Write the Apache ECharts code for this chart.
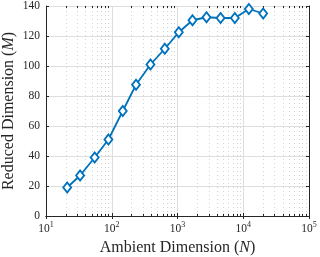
<!DOCTYPE html>
<html>
<head>
<meta charset="utf-8">
<script src="https://cdn.jsdelivr.net/npm/echarts@6/dist/echarts.min.js"></script>
<style>html,body{margin:0;padding:0;background:#fff}#c{width:320px;height:257px}</style>
</head>
<body>
<div id="c"></div>
<script>
var ambientN = [21, 33, 55, 89, 147, 234, 388, 641, 1047, 1690, 2763, 4519, 7447, 12170, 20100];
var reducedM = [19, 27, 39, 51, 70, 87.5, 101, 111.5, 122.5, 130.5, 132.5, 132, 132, 138, 135];
var xDecades = [10, 100, 1000, 10000, 100000];
var yTicks = [0, 20, 40, 60, 80, 100, 120, 140];
var xAxisTitle = 'Ambient Dimension';
var xAxisVar = 'N';
var yAxisTitle = 'Reduced Dimension';
var yAxisVar = 'M';

var FONT = 'Liberation Serif';
var minorVals = [];
for (var d = 0; d < xDecades.length - 1; d++) {
  for (var k = 2; k <= 9; k++) minorVals.push(xDecades[d] * k);
}
var minorGrid = minorVals.map(function (v) { return { xAxis: v }; });
var minorTicks = [];
minorVals.forEach(function (v) {
  minorTicks.push([{ coord: [v, 0] }, { coord: [v, 1.4] }]);
  minorTicks.push([{ coord: [v, 140] }, { coord: [v, 138.6] }]);
});

var chart = echarts.init(document.getElementById('c'), null, { renderer: 'canvas' });
var axisColor = '#262626';
chart.setOption({
  animation: false,
  backgroundColor: '#ffffff',
  grid: { left: 46, right: 11, top: 6, bottom: 41, containLabel: false, outerBoundsMode: 'none' },
  xAxis: [{
    type: 'log', logBase: 10, min: xDecades[0], max: xDecades[xDecades.length - 1],
    position: 'bottom',
    name: '{t|' + xAxisTitle + ' (}{i|' + xAxisVar + '}{t|)}',
    nameLocation: 'middle', nameGap: 23,
    nameTextStyle: { rich: {
      t: { fontFamily: FONT, fontSize: 16, color: '#262626' },
      i: { fontFamily: FONT, fontSize: 16, fontStyle: 'italic', color: '#262626' }
    } },
    axisLine: { show: true, lineStyle: { color: axisColor, width: 1 } },
    axisTick: { show: true, inside: true, length: 3, lineStyle: { color: axisColor } },
    axisLabel: {
      margin: 5,
      formatter: function (v) { return '{b|10}{s|' + Math.round(Math.log10(v)) + '}'; },
      rich: {
        b: { fontFamily: FONT, fontSize: 11.5, color: '#262626' },
        s: { fontFamily: FONT, fontSize: 8, color: '#262626', padding: [0, 0, 8, 0] }
      }
    },
    splitLine: { show: true, lineStyle: { color: '#dedede', width: 1 } },
    minorTick: { show: false }
  }, {
    type: 'log', logBase: 10, min: xDecades[0], max: xDecades[xDecades.length - 1],
    position: 'top',
    axisLine: { show: true, lineStyle: { color: axisColor, width: 1 } },
    axisTick: { show: true, inside: true, length: 3, lineStyle: { color: axisColor } },
    axisLabel: { show: false },
    splitLine: { show: false }
  }],
  yAxis: [{
    type: 'value', min: yTicks[0], max: yTicks[yTicks.length - 1], interval: 20,
    position: 'left',
    name: '{t|' + yAxisTitle + ' (}{i|' + yAxisVar + '}{t|)}',
    nameLocation: 'middle', nameGap: 29, nameMoveOverlap: false,
    nameTextStyle: { rich: {
      t: { fontFamily: FONT, fontSize: 16, color: '#262626' },
      i: { fontFamily: FONT, fontSize: 16, fontStyle: 'italic', color: '#262626' }
    } },
    axisLine: { show: true, lineStyle: { color: axisColor, width: 1 } },
    axisTick: { show: true, inside: true, length: 3, lineStyle: { color: axisColor } },
    axisLabel: { margin: 6, fontFamily: FONT, fontSize: 11.5, color: '#262626' },
    splitLine: { show: true, lineStyle: { color: '#dedede', width: 1 } }
  }, {
    type: 'value', min: yTicks[0], max: yTicks[yTicks.length - 1], interval: 20,
    position: 'right',
    axisLine: { show: true, lineStyle: { color: axisColor, width: 1 } },
    axisTick: { show: true, inside: true, length: 3, lineStyle: { color: axisColor } },
    axisLabel: { show: false },
    splitLine: { show: false }
  }],
  series: [{
    type: 'line',
    xAxisIndex: 0, yAxisIndex: 0,
    data: [],
    silent: true,
    markLine: {
      silent: true, symbol: 'none', animation: false,
      label: { show: false },
      lineStyle: { color: '#d4d4d4', type: [1, 3], width: 1 },
      data: minorGrid
    },
    z: 1
  }, {
    type: 'line',
    xAxisIndex: 0, yAxisIndex: 0,
    data: [],
    silent: true,
    markLine: {
      silent: true, symbol: 'none', animation: false,
      label: { show: false },
      lineStyle: { color: axisColor, type: 'solid', width: 1 },
      data: minorTicks
    },
    z: 3
  }, {
    type: 'line',
    xAxisIndex: 0, yAxisIndex: 0,
    data: ambientN.map(function (n, i) { return [n, reducedM[i]]; }),
    symbol: 'diamond',
    symbolSize: [8, 10],
    showAllSymbol: true,
    lineStyle: { color: '#0072BD', width: 1.8 },
    itemStyle: { color: '#ffffff', borderColor: '#0072BD', borderWidth: 1.8 },
    z: 5
  }]
});
</script>
</body>
</html>
